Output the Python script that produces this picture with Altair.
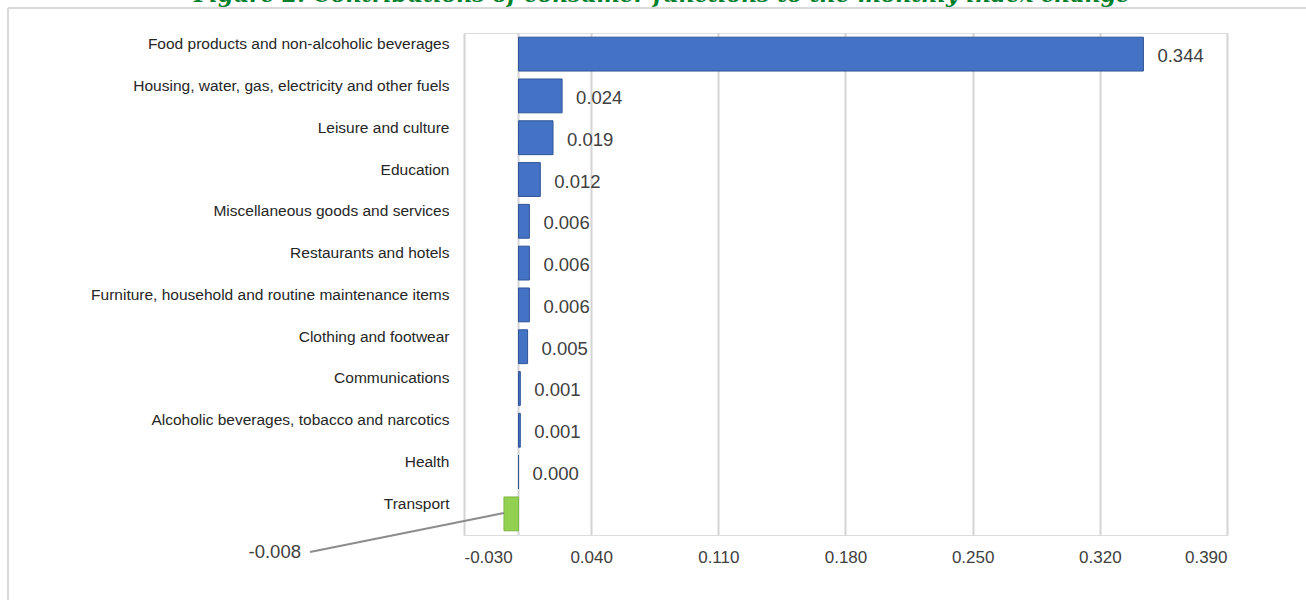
import altair as alt
import pandas as pd

categories = [
    "Food products and non-alcoholic beverages",
    "Housing, water, gas, electricity and other fuels",
    "Leisure and culture",
    "Education",
    "Miscellaneous goods and services",
    "Restaurants and hotels",
    "Furniture, household and routine maintenance items",
    "Clothing and footwear",
    "Communications",
    "Alcoholic beverages, tobacco and narcotics",
    "Health",
    "Transport",
]
values = [0.344, 0.024, 0.019, 0.012, 0.006, 0.006, 0.006, 0.005, 0.001, 0.001, 0.000, -0.008]
labels = ["0.344", "0.024", "0.019", "0.012", "0.006", "0.006", "0.006", "0.005", "0.001", "0.001", "0.000", "-0.008"]
tick_values = [-0.030, 0.040, 0.110, 0.180, 0.250, 0.320, 0.390]
title_text = "Figure 2: Contributions of consumer functions to the monthly index change"

df = pd.DataFrame({"category": categories, "value": values, "label": labels})
df["color"] = ["pos" if v >= 0 else "neg" for v in values]

FONT = "Liberation Sans"
W, H = 763, 502

xscale = alt.Scale(domain=[-0.03, 0.39], nice=False, zero=False)
yscale = alt.Scale(domain=categories, paddingInner=0.19, paddingOuter=0.1)

base = alt.Chart(df)

bars = base.mark_bar(strokeWidth=1).encode(
    x=alt.X("value:Q", scale=xscale, title=None,
            axis=alt.Axis(values=tick_values, grid=True, gridColor="#D4D4D4", gridWidth=2,
                          ticks=False, domain=False, labelFont=FONT, labelFontSize=17,
                          labelColor="#404040", labelPadding=14,
                          labelExpr="replace(format(datum.value, '.3f'), '\u2212', '-')")),
    x2=alt.datum(0),
    y=alt.Y("category:N", sort=categories, scale=yscale, title=None,
            axis=alt.Axis(ticks=False, domain=False, labelFont=FONT, labelFontSize=15.5,
                          labelColor="#262626", labelPadding=15, labelOffset=-10,
                          labelLimit=400)),
    color=alt.Color("color:N", scale=alt.Scale(domain=["pos", "neg"], range=["#4472C4", "#92D050"]), legend=None),
    stroke=alt.Stroke("color:N", scale=alt.Scale(domain=["pos", "neg"], range=["#2F5597", "#7DB844"]), legend=None),
)

zero_line = alt.Chart(pd.DataFrame({"z": [0]})).mark_rule(color="#D4D4D4", strokeWidth=2).encode(
    x=alt.X("z:Q", scale=xscale),
    y=alt.value(0), y2=alt.value(H),
)

pos_labels = base.transform_filter("datum.value >= 0").mark_text(
    align="left", baseline="middle", dx=14, dy=2, font=FONT, fontSize=18.5, color="#404040"
).encode(
    x=alt.X("value:Q", scale=xscale),
    y=alt.Y("category:N", sort=categories, scale=yscale),
    text="label:N",
)

neg_df = df[df["value"] < 0]
leader = alt.Chart(neg_df).mark_rule(color="#8C8C8C", strokeWidth=2).encode(
    x=alt.X("value:Q", scale=xscale),
    y=alt.value(480),
    x2=alt.value(-154),
    y2=alt.value(519),
)
neg_label = alt.Chart(neg_df).mark_text(
    align="right", baseline="middle", font=FONT, fontSize=18.5, color="#404040"
).encode(
    x=alt.value(-163), y=alt.value(519), text="label:N",
)

frame_top = alt.Chart(pd.DataFrame({"a": [0]})).mark_rule(color="#D9D9D9", strokeWidth=2).encode(
    x=alt.value(-456), x2=alt.value(1306 - 464), y=alt.value(-25), y2=alt.value(-25))
frame_left = alt.Chart(pd.DataFrame({"a": [0]})).mark_rule(color="#D9D9D9", strokeWidth=2).encode(
    x=alt.value(-456), x2=alt.value(-456), y=alt.value(-25), y2=alt.value(H + 70))

title = alt.Chart(pd.DataFrame({"t": [title_text]})).mark_text(
    align="center", baseline="alphabetic", font="DejaVu Serif", fontWeight="bold",
    fontStyle="italic", fontSize=22, color="#00802B"
).encode(x=alt.value(198), y=alt.value(-31), text="t:N")

chart = alt.layer(zero_line, bars, pos_labels, leader, neg_label, frame_top, frame_left, title).properties(
    width=W, height=H,
    autosize=alt.AutoSizeParams(type="none"),
    padding={"left": 464, "top": 33, "right": 79, "bottom": 65},
).configure_view(stroke=None).configure(background="white")

chart.save("out.html", embed_options={"renderer": "svg", "actions": False})
